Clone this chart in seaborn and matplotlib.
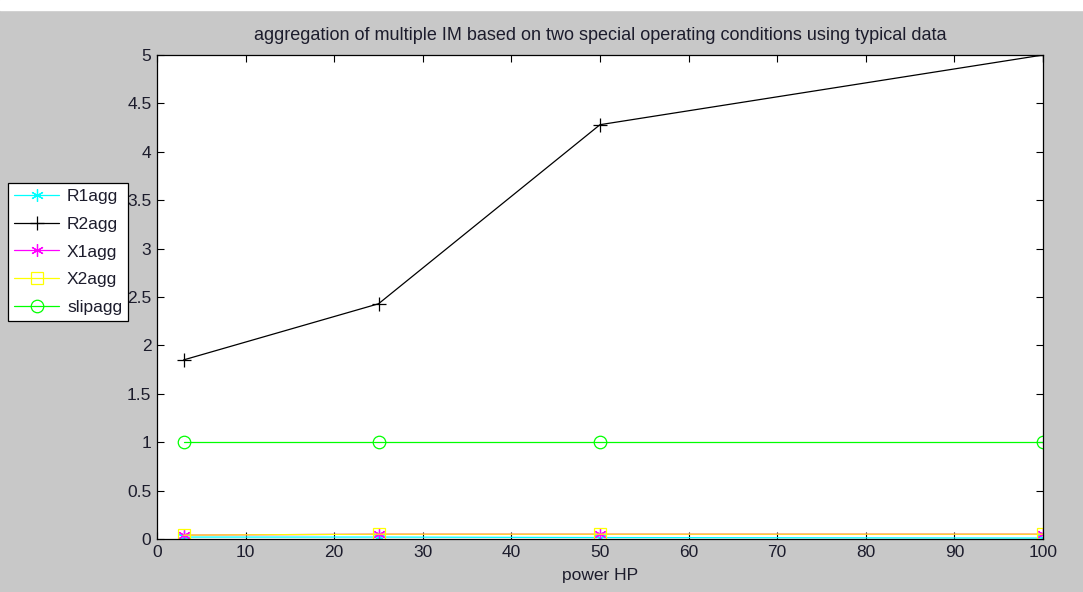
import numpy as np
import pandas as pd
import seaborn as sns
import matplotlib.pyplot as plt
from matplotlib.patches import Rectangle

# power ratings (HP) and aggregated parameters
power = [3, 25, 50, 100]
R1agg = [0.02, 0.02, 0.015, 0.01]
R2agg = [1.85, 2.43, 4.28, 5.0]
X1agg = [0.04, 0.05, 0.05, 0.05]
X2agg = [0.04, 0.05, 0.05, 0.05]
slipagg = [1, 1, 1, 1]

series_names = ["R1agg", "R2agg", "X1agg", "X2agg", "slipagg"]
series_vals = [R1agg, R2agg, X1agg, X2agg, slipagg]
colors = ["#00ffff", "black", "#ff00ff", "#ffff00", "#00ff00"]
asterisk = (6, 2, 0)
markers = [asterisk, "+", asterisk, "s", "o"]
txt = "#1c1c2c"

sns.set_style("ticks")
plt.rcParams["font.family"] = ["Liberation Sans", "DejaVu Sans"]

fig = plt.figure(figsize=(10.83, 5.92), dpi=100, facecolor="#c8c8c8")
fig.patches.append(Rectangle((0, 1 - 10 / 592), 1, 10 / 592, transform=fig.transFigure,
                             color="white", zorder=-1))
ax = fig.add_axes([157 / 1083, 53 / 592, 886 / 1083, 484 / 592])
ax.set_facecolor("white")

for name, vals, c, m in zip(series_names, series_vals, colors, markers):
    df = pd.DataFrame({"power": power, "val": vals})
    sns.lineplot(data=df, x="power", y="val", ax=ax, color=c, marker=m,
                 markersize=9 if m != "+" else 10, linewidth=0.9,
                 markerfacecolor="none" if m in ("s", "o") else c,
                 markeredgecolor=c, markeredgewidth=0.9, label=name, legend=False)

ax.set_xlim(0, 100)
ax.set_ylim(0, 5)
ax.set_xticks(np.arange(0, 101, 10))
ax.set_yticks(np.arange(0, 5.01, 0.5))
ax.set_yticklabels(["0", "0.5", "1", "1.5", "2", "2.5", "3", "3.5", "4", "4.5", "5"])
ax.tick_params(direction="in", top=True, right=True, labelsize=12.5, length=5, width=0.8,
               colors="black", labelcolor=txt, pad=4)
for s in ax.spines.values():
    s.set_visible(True)
    s.set_linewidth(0.9)
    s.set_color("black")

ax.set_title("aggregation of multiple IM based on two special operating conditions using typical data",
             fontsize=13, pad=11, color=txt)
ax.set_xlabel("power HP", fontsize=12.5, labelpad=6, color=txt)
ax.set_ylabel("")

handles, labels = ax.get_legend_handles_labels()
leg = fig.legend(handles, labels, loc="upper left", bbox_to_anchor=(8 / 1083, 1 - 183 / 592),
                 bbox_transform=fig.transFigure, fontsize=12.5, frameon=True, fancybox=False,
                 edgecolor="black", framealpha=1, borderaxespad=0, handlelength=2.6,
                 labelspacing=0.72, borderpad=0.35, handletextpad=0.45)
for t in leg.get_texts():
    t.set_color(txt)
leg.get_frame().set_linewidth(0.9)

fig.savefig("out.png", dpi=100, facecolor=fig.get_facecolor())
